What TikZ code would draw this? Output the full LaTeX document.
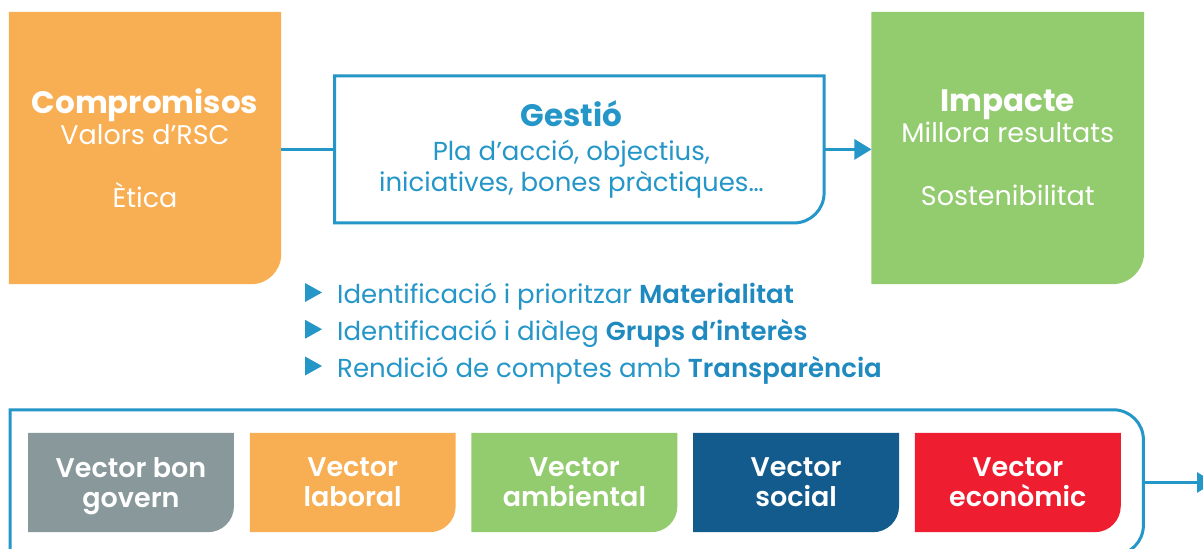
\documentclass[tikz,border=0pt]{standalone}
\usepackage{fontspec}
\setmainfont{Poppins}
\newfontfamily\semibold{Poppins SemiBold}
\usetikzlibrary{arrows.meta,backgrounds}
\definecolor{rscorange}{HTML}{F8AE52}
\definecolor{rscgreen}{HTML}{93CB6F}
\definecolor{rscgray}{HTML}{88989B}
\definecolor{rscnavy}{HTML}{135B8C}
\definecolor{rscred}{HTML}{EE1D2F}
\definecolor{rscblue}{HTML}{2596C8}
\definecolor{rscbold}{HTML}{1F8AC0}
\newcommand{\headfont}{\fontsize{31}{31}\selectfont\bfseries}
\newcommand{\keyword}[1]{{\semibold\color{rscbold}#1}}
\begin{document}
\begin{tikzpicture}[x=1pt,y=1pt,
  box/.style={inner sep=0pt,align=center,text=white,font=\fontsize{27}{31}\selectfont},
  vecbox/.style={inner sep=0pt,align=center,text=white,text depth=0pt,minimum width=205.5pt,minimum height=99pt,font=\fontsize{27}{30}\selectfont\semibold},
  blueline/.style={draw=rscblue,line width=3pt},
  arrow/.style={blueline,-{Triangle[length=17pt,width=20pt]}},
  item/.style={anchor=base west,inner sep=0pt,text=rscblue,font=\fontsize{26}{30}\selectfont}]
\useasboundingbox (0,0) rectangle (1203,549);
\begin{scope}[on background layer]
\fill[white] (0,0) rectangle (1203,549);
\end{scope}
% top row
\node[box,minimum width=272pt,minimum height=272pt] (comp) at (145,401) {{\headfont Compromisos}\\Valors d’RSC\\[32pt]Ètica};
\node[inner sep=0pt,minimum width=489pt,minimum height=146.7pt] (gest) at (579.4,399.6) {};
\node[box,text=rscblue,font=\fontsize{26}{31}\selectfont] (gestxt) at ([xshift=-8pt]gest.center) {{\headfont Gestió}\\[3pt]Pla d’acció, objectius,\\iniciatives, bones pràctiques…};
\node[box,minimum width=272.3pt,minimum height=272pt] (imp) at (1007.8,401) {{\headfont Impacte}\\Millora resultats\\[32pt]Sostenibilitat};
\begin{scope}[on background layer]
\fill[rscorange] (comp.north west) -- (comp.north east) -- ([yshift=30pt]comp.south east) arc[start angle=0,end angle=-90,radius=30pt] -- (comp.south west) -- cycle;
\fill[rscgreen] (imp.north west) -- (imp.north east) -- ([yshift=32pt]imp.south east) arc[start angle=0,end angle=-90,radius=32pt] -- (imp.south west) -- cycle;
\end{scope}
\draw[blueline] (gest.north west) -- (gest.north east) -- ([yshift=30pt]gest.south east) arc[start angle=0,end angle=-90,radius=30pt] -- (gest.south west) -- cycle;
\draw[blueline] (comp.east |- gest.west) -- (gest.west);
\draw[arrow] (gest.east) -- (gest.east -| imp.west);
% bullets
\foreach \i/\txt in {1/{Identificació i prioritzar \keyword{Materialitat}},
  2/{Identificació i diàleg \keyword{Grups d’interès}},
  3/{Rendició de comptes amb \keyword{Transparència}}}{
  \node[item] (item\i) at (337,{245-36.75*(\i-1)}) {\txt};
  \fill[rscblue] ([shift={(-32,2)}]item\i.base west) -- ++(0,19) -- ++(17,-9.5) -- cycle;
}
% vectors
\node[inner sep=0pt,minimum width=1133pt,minimum height=145pt] (frame) at (576.7,66.5) {};
\draw[blueline] (frame.south west) -- (frame.north west) -- ([xshift=-30pt]frame.north east) arc[start angle=90,end angle=0,radius=30pt] -- ([yshift=30pt]frame.south east) arc[start angle=0,end angle=-90,radius=30pt] -- cycle;
\foreach \i/\col/\txt in {0/rscgray/{Vector bon\\govern},1/rscorange/{Vector\\laboral},2/rscgreen/{Vector\\ambiental},3/rscnavy/{Vector\\social},4/rscred/{Vector\\econòmic}}{
  \node[vecbox] (vec\i) at ({131+221.7*\i},66.5) {\txt};
  \begin{scope}[on background layer]
  \fill[\col] (vec\i.north west) -- (vec\i.north east) -- ([yshift=26pt]vec\i.south east) arc[start angle=0,end angle=-90,radius=26pt] -- (vec\i.south west) -- cycle;
  \end{scope}
}
\coordinate (out) at (1214,66.5);
\draw[arrow] (frame.east) -- (out);
\end{tikzpicture}
\end{document}
